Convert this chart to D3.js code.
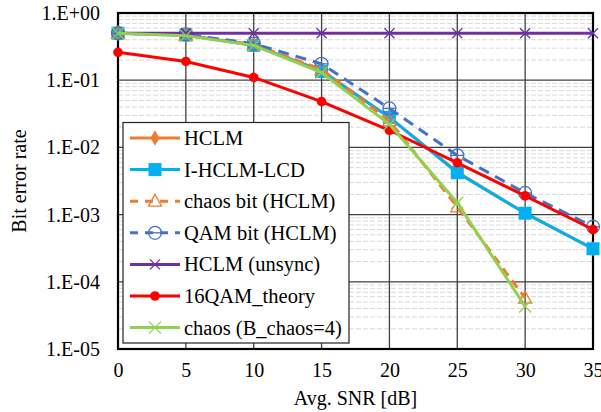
<!DOCTYPE html>
<html><head><meta charset="utf-8">
<script src="https://cdn.jsdelivr.net/npm/d3@7"></script>
<style>body{margin:0;background:#fff}svg{display:block}</style>
</head><body>
<script>
const snr = [0,5,10,15,20,25,30,35];
const hclm = [0.5,0.47,0.33,0.14,0.028,0.0043,0.00105,0.00031];
const ihclm = [0.5,0.47,0.33,0.135,0.028,0.0042,0.00105,0.00031];
const chaosBit = [0.5,0.47,0.34,0.145,0.025,0.0013,0.000057];
const qamBit = [0.5,0.48,0.35,0.175,0.038,0.0076,0.0021,0.00066];
const unsync = [0.5,0.5,0.5,0.5,0.5,0.5,0.5,0.5];
const theory = [0.26,0.19,0.11,0.048,0.018,0.0059,0.0019,0.0006];
const chaos4 = [0.5,0.46,0.33,0.13,0.022,0.0015,0.000043];
const yTicks = [1,1e-1,1e-2,1e-3,1e-4,1e-5];
const yTickLabels = ["1.E+00","1.E-01","1.E-02","1.E-03","1.E-04","1.E-05"];
const xTicks = [0,5,10,15,20,25,30,35];

const FONT = "'Liberation Serif', 'Times New Roman', Times, 'DejaVu Serif', serif";

const series = [
  {name:"HCLM", values:hclm, color:"#ED7D31", dash:null, marker:"diamond"},
  {name:"I-HCLM-LCD", values:ihclm, color:"#00B0F0", dash:null, marker:"square"},
  {name:"chaos bit (HCLM)", values:chaosBit, color:"#ED7D31", dash:"9,6", marker:"triangle"},
  {name:"QAM bit (HCLM)", values:qamBit, color:"#4472C4", dash:"11,7", marker:"circleline"},
  {name:"HCLM (unsync)", values:unsync, color:"#7030A0", dash:null, marker:"x"},
  {name:"16QAM_theory", values:theory, color:"#FF0000", dash:null, marker:"dot"},
  {name:"chaos (B_chaos=4)", values:chaos4, color:"#92D050", dash:null, marker:"xbig"}
];

const W=601,H=412;
const m={l:118,r:8,t:13,b:63};
const svg=d3.select("body").append("svg").attr("width",W).attr("height",H);
const x=d3.scaleLinear().domain([0,35]).range([m.l,W-m.r]);
const y=d3.scaleLog().domain([1e-5,1]).range([H-m.b,m.t]);

const minor=[];
for(let e=-5;e<0;e++) for(let k=2;k<=9;k++) minor.push(k*Math.pow(10,e));
svg.append("g").selectAll("line").data(minor).join("line")
  .attr("x1",x(0)).attr("x2",x(35)).attr("y1",d=>y(d)).attr("y2",d=>y(d))
  .attr("stroke","#d9d9d9").attr("stroke-width",1).attr("stroke-dasharray","5,2");
svg.append("g").selectAll("line").data(yTicks).join("line")
  .attr("x1",x(0)).attr("x2",x(35)).attr("y1",d=>y(d)).attr("y2",d=>y(d))
  .attr("stroke","#404040").attr("stroke-width",1.3);
svg.append("g").selectAll("line").data(xTicks).join("line")
  .attr("x1",d=>x(d)).attr("x2",d=>x(d)).attr("y1",y(1)).attr("y2",y(1e-5))
  .attr("stroke","#404040").attr("stroke-width",1.3);
svg.append("rect").attr("x",x(0)).attr("y",y(1)).attr("width",x(35)-x(0)).attr("height",y(1e-5)-y(1))
  .attr("fill","none").attr("stroke","#000").attr("stroke-width",2.2);

const yAxis=d3.axisLeft(y).tickValues(yTicks).tickFormat((d,i)=>yTickLabels[i]).tickSize(0).tickPadding(18);
const gy=svg.append("g").attr("transform",`translate(${x(0)},0)`).call(yAxis);
gy.attr("font-family",null).attr("font-size",null);
gy.select(".domain").remove();
gy.selectAll("text").attr("font-family",FONT).attr("font-size",20).attr("fill","#000");
const xAxis=d3.axisBottom(x).tickValues(xTicks).tickFormat(d3.format("d")).tickSize(0).tickPadding(14);
const gx=svg.append("g").attr("transform",`translate(0,${y(1e-5)})`).call(xAxis);
gx.attr("font-family",null).attr("font-size",null);
gx.select(".domain").remove();
gx.selectAll("text").attr("font-family",FONT).attr("font-size",20).attr("fill","#000");

svg.append("text").attr("x",(x(0)+x(35))/2).attr("y",405).attr("text-anchor","middle")
  .attr("font-family",FONT).attr("font-size",20).text("Avg. SNR [dB]");
svg.append("text").attr("transform",`translate(26,${(y(1)+y(1e-5))/2}) rotate(-90)`).attr("text-anchor","middle")
  .attr("font-family",FONT).attr("font-size",20).text("Bit error rate");

function drawMarker(g,type,color,cx,cy){
  if(type==="diamond"){
    g.append("path").attr("d",d3.symbol(d3.symbolDiamond,70)()).attr("transform",`translate(${cx},${cy})`).attr("fill",color);
  } else if(type==="square"){
    g.append("rect").attr("x",cx-6.5).attr("y",cy-6.5).attr("width",13).attr("height",13).attr("fill",color);
  } else if(type==="triangle"){
    g.append("path").attr("d",`M${cx},${cy-7}L${cx+6.5},${cy+5}L${cx-6.5},${cy+5}Z`).attr("fill","none").attr("stroke",color).attr("stroke-width",1.3);
  } else if(type==="circleline"){
    g.append("circle").attr("cx",cx).attr("cy",cy).attr("r",6.5).attr("fill","none").attr("stroke",color).attr("stroke-width",1.3);
    g.append("line").attr("x1",cx-6.5).attr("x2",cx+6.5).attr("y1",cy).attr("y2",cy).attr("stroke",color).attr("stroke-width",1.3);
  } else if(type==="x"||type==="xbig"){
    const s=type==="x"?5:6;
    g.append("path").attr("d",`M${cx-s},${cy-s}L${cx+s},${cy+s}M${cx-s},${cy+s}L${cx+s},${cy-s}`).attr("stroke",color).attr("stroke-width",1.3);
  } else if(type==="dot"){
    g.append("circle").attr("cx",cx).attr("cy",cy).attr("r",4.8).attr("fill",color);
  }
}

const line=d3.line().x(d=>x(d[0])).y(d=>y(d[1]));
series.forEach(s=>{
  const pts=s.values.map((v,i)=>[snr[i],v]);
  const g=svg.append("g");
  g.append("path").attr("d",line(pts)).attr("fill","none").attr("stroke",s.color)
    .attr("stroke-width",3).attr("stroke-dasharray",s.dash);
  pts.forEach(p=>drawMarker(g,s.marker,s.color,x(p[0]),y(p[1])));
});

const lg=svg.append("g");
lg.append("rect").attr("x",123).attr("y",122.5).attr("width",226).attr("height",220.5)
  .attr("fill","#fff").attr("stroke","#222").attr("stroke-width",1.2);
series.forEach((s,i)=>{
  const cy=138+i*31.6;
  lg.append("line").attr("x1",130).attr("x2",180).attr("y1",cy).attr("y2",cy).attr("stroke",s.color)
    .attr("stroke-width",3).attr("stroke-dasharray",s.dash?"8,7":null);
  drawMarker(lg,s.marker,s.color,155,cy);
  lg.append("text").attr("x",184).attr("y",cy+7).attr("font-family",FONT).attr("font-size",20.5).attr("fill","#000").text(s.name);
});
</script>
</body></html>
